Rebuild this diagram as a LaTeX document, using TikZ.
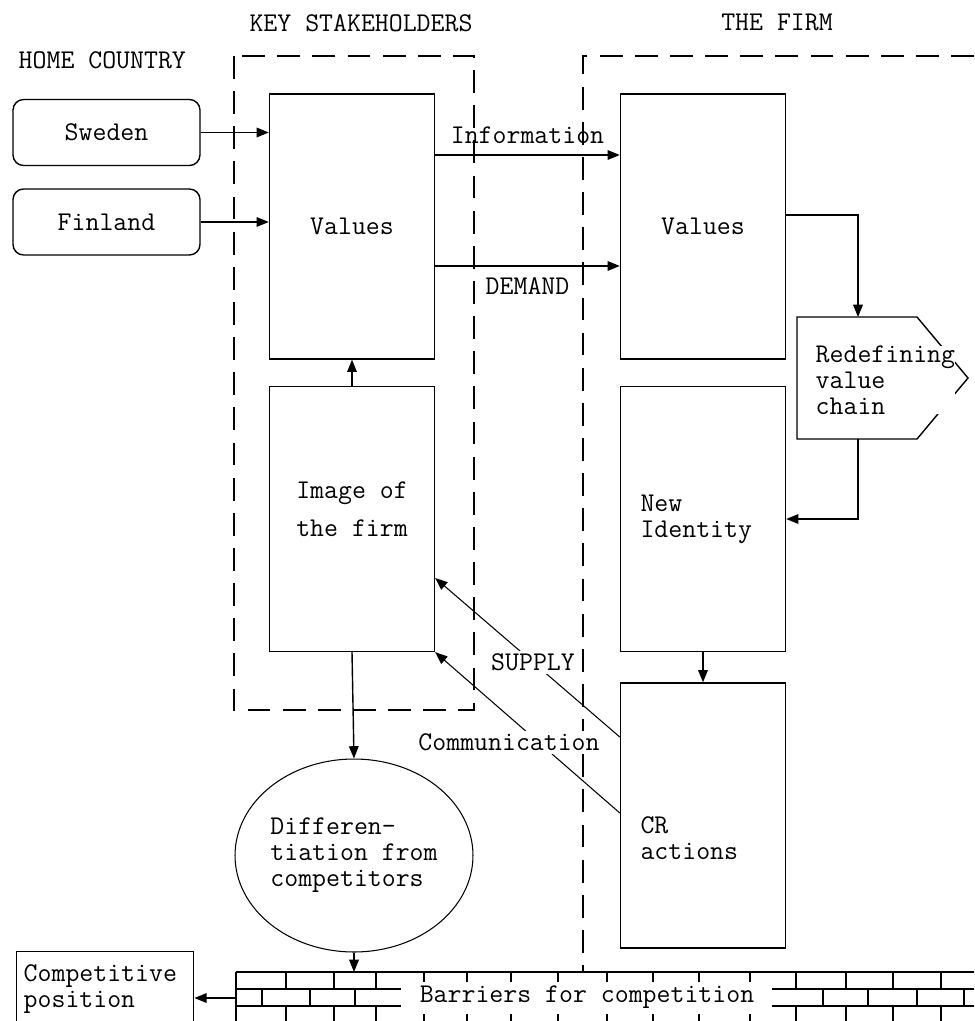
\documentclass[tikz,border=0pt]{standalone}
\usepackage{fontspec}
\usepackage{tikz}
\usetikzlibrary{arrows.meta, positioning, shapes.geometric, calc}

\begin{document}
\begin{tikzpicture}[x=0.02cm, y=-0.02cm, line width=0.8pt,
    every node/.style={font=\ttfamily\fontsize{15.4}{14.8}\selectfont},
    box/.style={rectangle, draw, minimum width=3.3cm, minimum height=5.3cm, align=center},
    lbox/.style={box, text width=2.5cm, align=left},
    cbox/.style={rectangle, draw, rounded corners=6pt, minimum width=3.74cm, minimum height=1.32cm},
    frame/.style={line width=0.7pt, dash pattern=on 13pt off 7pt},
    arr/.style={-{Triangle[length=7pt,width=5.5pt]}},
    lbl/.style={fill=white, inner sep=1.5pt}]
    \clip (0,0) rectangle (974,1021);
    % headings
    \node (hkey) at (361,23) {KEY STAKEHOLDERS};
    \node (hfirm) at (777,22) {THE FIRM};
    \node[anchor=west, inner sep=0] (hhome) at (18,60) {HOME COUNTRY};
    % dashed frames
    \draw[frame] (234,56) rectangle (474,710);
    \draw[frame] (974,56) -| (583,972);
    % home country
    \node[cbox] (swe) at (106.5,132.5) {Sweden};
    \node[cbox] (fin) at (106.5,222) {Finland};
    % key stakeholders
    \node[box] (sval) at (352,226.5) {Values};
    \node[box] (img) at (352,519) {};
    \node[align=center] (imgtxt) at (352,509) {Image of\\[6.8pt]the firm};
    % the firm
    \node[box] (fval) at (703,226.5) {Values};
    \node[lbox] (nid) at (703,519) {New\\Identity};
    \node[box] (cr) at (703,815.5) {};
    \node[text width=2.5cm, align=left] (crtxt) at (703,838) {CR\\actions};
    \draw (797,317) -- (917,317) -- (968,378) -- (917,439) -- (797,439) -- cycle;
    \node[fill=white, inner sep=0, anchor=west, align=left] (redef) at (815,380) {Redefining\\value\\chain};
    \coordinate (rvtop) at (858,317);
    \coordinate (rvbot) at (858,439);
    % outcome
    \node[ellipse, draw, line width=0.6pt, inner sep=0, minimum width=4.76cm, minimum height=3.86cm, align=left] (diff) at (354,855.5) {Differen-\\tiation from\\competitors};
    \node[draw, anchor=north west, minimum width=3.54cm, minimum height=1.88cm] (cpbox) at (16,951) {};
    \node[anchor=west, align=left, inner sep=0] (cp) at (23,989) {Competitive\\position};
    % wall
    \draw (236,972) -- (974,972);
    \draw (236,972) -- (236,1021);
    \draw (236,989) -- (401,989) (772,989) -- (974,989);
    \draw (236,1006) -- (401,1006) (772,1006) -- (974,1006);
    \foreach \x in {286,334,376,796,846,893,941}
        \draw (\x,972) -- (\x,989) (\x,1006) -- (\x,1021);
    \foreach \x in {424,467,511,558,607,653,699,750}
        \draw (\x,972) -- (\x,982) (\x,1014) -- (\x,1021);
    \foreach \x in {262,310,355,823,868,917,964}
        \draw (\x,989) -- (\x,1006);
    \node[inner sep=0] (wall) at (587,997) {Barriers for competition};
    \coordinate (wtop) at (354,972);
    \coordinate (wleft) at (236,998);
    % connectors
    \draw[arr] (swe.east) -- (swe.east -| sval.west);
    \draw[arr] (fin.east) -- (fin.east -| sval.west);
    \draw[arr] (img.north) -- (sval.south);
    \draw[arr] ([yshift=1.43cm]sval.east) -- node[above=3pt] {Information} ([yshift=1.43cm]fval.west);
    \draw[arr] ([yshift=-0.79cm]sval.east) -- node[below=3pt] {DEMAND} ([yshift=-0.79cm]fval.west);
    \draw[arr] ([yshift=0.23cm]fval.east) -| (rvtop);
    \draw[arr] (rvbot) |- (nid.east);
    \draw[arr] (nid.south) -- (cr.north);
    \draw[arr, line width=0.6pt] ([yshift=1.57cm]cr.west) -- node[lbl, pos=0.47] {SUPPLY} ([yshift=-1.18cm]img.east);
    \draw[arr, line width=0.6pt] ([yshift=0.05cm]cr.west) -- node[lbl, pos=0.6, yshift=-0.52cm] {Communication} (img.south east);
    \draw[arr] (img.south) -- (diff.north);
    \draw[arr] (diff.south) -- (wtop);
    \draw[arr] (wleft) -- (wleft -| cpbox.east);
\end{tikzpicture}
\end{document}
